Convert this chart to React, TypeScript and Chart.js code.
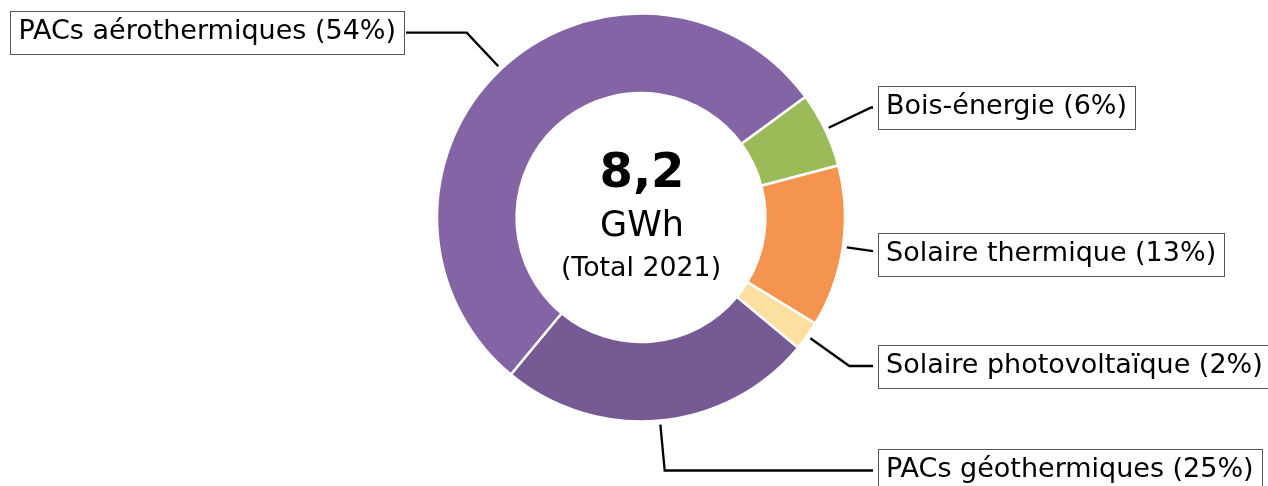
import { useEffect, useRef } from 'react';
import { Chart, registerables } from 'chart.js';

Chart.register(...registerables);

// ---- data ----
const categories = [
  'Bois-énergie',
  'Solaire thermique',
  'Solaire photovoltaïque',
  'PACs géothermiques',
  'PACs aérothermiques',
];
const valuesGWh = [0.49, 1.05, 0.19, 2.05, 4.42];
const sliceColors = ['#9BBB59', '#F5944E', '#FDE0A0', '#755A93', '#8364A5'];
const centerValue = '8,2';
const centerUnit = 'GWh';
const centerNote = '(Total 2021)';

// ---- layout (not data) ----
const FONT = '"DejaVu Sans", "Noto Sans", sans-serif';
// side of the label box and vertical offset of its centre from the donut centre (px)
const LABEL_LAYOUT = [
  { side: 1, dy: -110 },
  { side: 1, dy: 36.5 },
  { side: 1, dy: 148.5 },
  { side: 1, dy: 253 },
  { side: -1, dy: -184.8 },
];

const calloutPlugin = {
  id: 'callouts',
  afterDraw(chart: any) {
    const ctx: CanvasRenderingContext2D = chart.ctx;
    const meta = chart.getDatasetMeta(0);
    if (!meta.data.length) return;
    const first = meta.data[0].getProps(['x', 'y', 'outerRadius'], true);
    const cx = first.x;
    const cy = first.y;
    const outer = first.outerRadius;
    const total = valuesGWh.reduce((a, b) => a + b, 0);

    ctx.save();
    // centre text
    ctx.fillStyle = '#000';
    ctx.textAlign = 'center';
    ctx.textBaseline = 'alphabetic';
    ctx.font = `bold 48px ${FONT}`;
    ctx.fillText(centerValue, cx + 1, cy - 30.5);
    ctx.font = `35px ${FONT}`;
    ctx.fillText(centerUnit, cx + 1, cy + 18);
    ctx.font = `26.8px ${FONT}`;
    ctx.fillText(centerNote, cx, cy + 58);

    // callouts
    ctx.font = `27px ${FONT}`;
    meta.data.forEach((arc: any, i: number) => {
      const { startAngle, endAngle } = arc.getProps(['startAngle', 'endAngle'], true);
      const mid = (startAngle + endAngle) / 2;
      const R = outer + 4;
      const px = cx + R * Math.cos(mid);
      const py = cy + R * Math.sin(mid);
      const text = `${categories[i]} (${Math.round((valuesGWh[i] / total) * 100)}%)`;
      const { side, dy } = LABEL_LAYOUT[i];
      const w = ctx.measureText(text).width + 16;
      const h = 42.5;
      const by = cy + dy;
      const top = by - h / 2;
      const bx = side > 0 ? cx + 237 : cx - 237 - w;
      const endX = side > 0 ? bx - 5 : bx + w + 2;

      ctx.strokeStyle = '#000';
      ctx.lineWidth = 2.3;
      ctx.beginPath();
      ctx.moveTo(px, py);
      const s = Math.sin(mid);
      const c = Math.cos(mid);
      let ex = endX;
      if (Math.abs(s) > 1e-6) ex = px + ((by - py) / s) * c;
      if ((side > 0 && ex > endX) || (side < 0 && ex < endX)) {
        const t2 = (endX - px) / c;
        ctx.lineTo(endX, py + t2 * s);
      } else {
        ctx.lineTo(ex, by);
        ctx.lineTo(endX, by);
      }
      ctx.stroke();

      ctx.fillStyle = '#fff';
      ctx.fillRect(bx, top, w, h);
      ctx.strokeStyle = '#555';
      ctx.lineWidth = 1;
      ctx.strokeRect(Math.round(bx) + 0.5, Math.round(top) + 0.5, Math.round(w), Math.round(h));
      ctx.fillStyle = '#000';
      ctx.textAlign = 'left';
      ctx.textBaseline = 'alphabetic';
      ctx.fillText(text, bx + 8, by + 6.5);
    });
    ctx.restore();
  },
};

export default function App() {
  const ref = useRef<HTMLCanvasElement | null>(null);
  useEffect(() => {
    if (!ref.current) return;
    const chart = new Chart(ref.current, {
      type: 'doughnut',
      data: {
        labels: categories,
        datasets: [
          {
            data: valuesGWh,
            backgroundColor: sliceColors,
            borderColor: '#ffffff',
            borderWidth: 2.5,
          },
        ],
      },
      options: {
        responsive: false,
        animation: false,
        devicePixelRatio: 1,
        rotation: 53.7,
        cutout: '61%',
        radius: 204,
        layout: { padding: { left: 14, right: 0, top: 0, bottom: 51 } },
        plugins: {
          legend: { display: false },
          tooltip: { enabled: false },
        },
      },
      plugins: [calloutPlugin],
    });
    return () => chart.destroy();
  }, []);
  return (
    <div style={{ position: 'fixed', left: 0, top: 0, width: 1268, height: 486, background: '#fff' }}>
      <canvas ref={ref} width={1268} height={486} />
    </div>
  );
}
